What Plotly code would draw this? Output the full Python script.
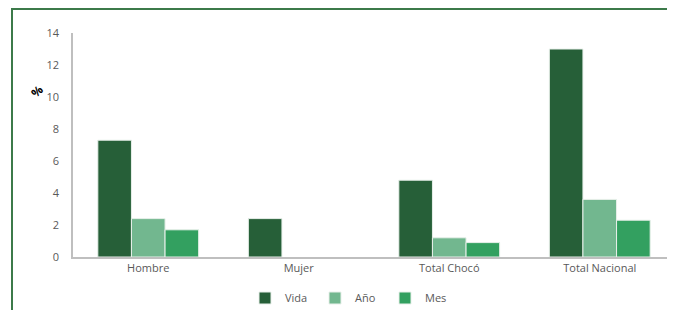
import plotly.graph_objects as go

categories = ["Hombre", "Mujer", "Total Chocó", "Total Nacional"]
vida = [7.3, 2.4, 4.8, 13.0]
anio = [2.4, None, 1.2, 3.6]
mes = [1.7, None, 0.9, 2.3]
y_ticks = [0, 2, 4, 6, 8, 10, 12, 14]

colors = {"Vida": "#265F38", "Año": "#72B78F", "Mes": "#33A060"}

fig = go.Figure()
for name, vals in [("Vida", vida), ("Año", anio), ("Mes", mes)]:
    fig.add_trace(go.Bar(
        x=categories, y=vals, name=name,
        marker=dict(color=colors[name], line=dict(color="#E8F0EA", width=1)),
    ))

W, H = 667, 302
L, R, T, B = 65, 0, 25, 53
pw, ph = W - L - R, H - T - B

fig.update_layout(
    width=W, height=H,
    margin=dict(l=L, r=R, t=T, b=B, autoexpand=False),
    paper_bgcolor="white", plot_bgcolor="white",
    barmode="group", bargap=0.33, bargroupgap=0,
    font=dict(family="Open Sans, sans-serif", size=11, color="#595959"),
    showlegend=True,
    legend=dict(orientation="h", x=(350 - 8 - L) / pw, xanchor="center",
                yref="container", y=(H - 290) / H, yanchor="middle",
                font=dict(size=11, color="#595959"), itemwidth=30,
                entrywidth=25, entrywidthmode="pixels",
                traceorder="normal"),
    xaxis=dict(showline=True, linecolor="#BFBFBF", linewidth=1.5, ticks="",
               showgrid=False, tickfont=dict(size=11, color="#595959")),
    yaxis=dict(range=[0, 14], tickvals=y_ticks, showline=True, linecolor="#BFBFBF",
               linewidth=1.5, showgrid=False, zeroline=False, ticks="",
               ticklabelstandoff=10, tickfont=dict(size=11, color="#595959")),
    shapes=[dict(type="rect", xref="paper", yref="paper",
                 x0=(4 - L) / pw, x1=1.2, y0=-0.6, y1=(ph + T - 1) / ph,
                 line=dict(color="#3C7A4A", width=2), fillcolor="rgba(0,0,0,0)",
                 layer="below")],
    annotations=[dict(text="<b>%</b>", xref="paper", yref="paper",
                      x=(29 - L) / pw, y=(ph + T - 84) / ph,
                      xanchor="center", yanchor="middle",
                      showarrow=False, textangle=-45,
                      font=dict(size=12, color="#000000"))],
)

fig.write_html("out.html")
